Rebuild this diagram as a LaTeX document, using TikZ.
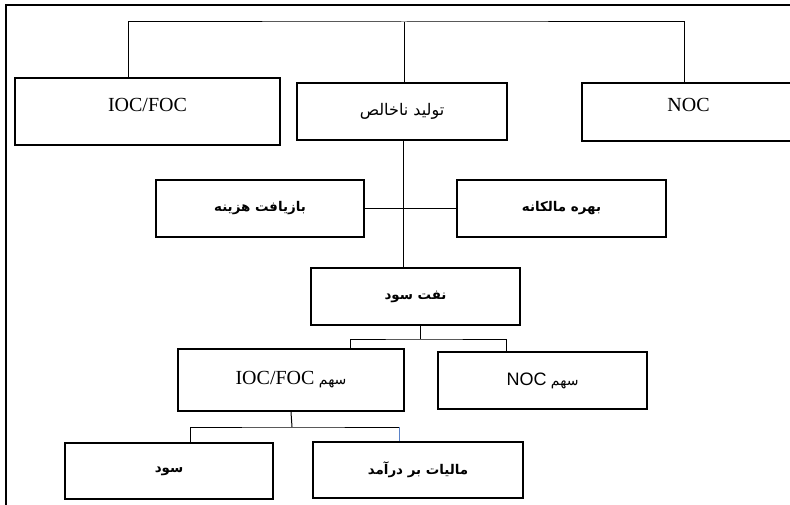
\documentclass[tikz,border=0pt]{standalone}
\usepackage{fontspec}
\setmainfont{Liberation Serif}
\newfontfamily\farsi[Script=Arabic]{DejaVu Sans}
\newfontfamily\arial{Liberation Sans}
\TeXXeTstate=1
\usepackage{tikz}
\definecolor{tickblue}{RGB}{90,130,200}
\newcommand{\lat}{\rmfamily\fontsize{20}{22}\selectfont}
\newcommand{\latsf}{\arial\fontsize{18}{20}\selectfont}

\begin{document}
\begin{tikzpicture}[x=1pt,y=1pt,yscale=-1,
  box/.style={draw, line width=1.1pt, inner sep=0pt, minimum height=57pt},
  link/.style={line width=1pt},
  fa/.style={font=\farsi\fontsize{16}{18}\selectfont},
  fas/.style={font=\farsi\fontsize{14}{16}\selectfont},
  fab/.style={font=\farsi\bfseries\fontsize{13.4}{15}\selectfont},
  up/.style={text depth=14pt}]
\useasboundingbox (0,0) rectangle (790,505);

%Frame
\draw [line width=1.4pt] (6,506) -- (6,5) -- (795,5) ;

%Top row
\node [box, minimum width=265pt, minimum height=67pt, up, font=\lat] (ioc) at (147.5,111.5) {IOC/FOC};
\node [box, minimum width=210pt, fa] (gross) at (402,111.5) {\beginR تولید ناخالص\endR};
\node [box, minimum width=213pt, minimum height=58pt, up, font=\lat] (noc) at (688.5,112) {NOC};

%Second row
\node [box, minimum width=208pt, fab] (cost) at (260,208.5) {\beginR بازیافت هزینه\endR};
\node [box, minimum width=209pt, fab] (royalty) at (561.5,208.5) {\beginR بهره مالکانه\endR};

%Profit oil
\node [box, minimum width=209pt, fab] (profit) at (415.5,296.5) {\beginR نفت سود\endR};

%Shares
\node [box, line width=2.2pt, minimum width=226pt, minimum height=62pt, fas] (iocshare) at (291,380) {\beginR سهم \beginL\lat IOC/FOC\endL\endR};
\node [box, minimum width=209pt, fas] (nocshare) at (542.5,380.5) {\beginR سهم \beginL\latsf NOC\endL\endR};

%Bottom row
\node [box, minimum width=208pt, minimum height=56pt, fab] (sud) at (169,471) {\beginR سود\endR};
\node [box, minimum width=210pt, minimum height=56pt, fab] (tax) at (418,470) {\beginR مالیات بر درآمد\endR};

%Connectors
\coordinate (bus1) at (404,22);
\coordinate (bus2) at (420,339);
\coordinate (bus3) at (292,427);
\coordinate (bus3r) at (399,427);
\draw [link] ([xshift=-19.5pt]ioc.north) |- (bus1) -| ([xshift=-4.5pt]noc.north) ;
\draw [link] (bus1) -- (bus1 |- gross.north) ;
\draw [link] ([xshift=1pt]gross.south) -- ([xshift=1pt]gross.south |- profit.north) ;
\draw [link] (cost.east) -- (royalty.west) ;
\draw [link] ([xshift=4.5pt]profit.south) -- (bus2) ;
\draw [link] ([xshift=59pt]iocshare.north) |- (bus2) -| ([xshift=-36.5pt]nocshare.north) ;
\draw [link] (iocshare.south) -- (bus3) ;
\draw [link] ([xshift=21pt]sud.north) |- (bus3) -- (bus3r) ;
\draw [link, tickblue] (bus3r) -- (bus3r |- tax.north) ;

\end{tikzpicture}
\end{document}
